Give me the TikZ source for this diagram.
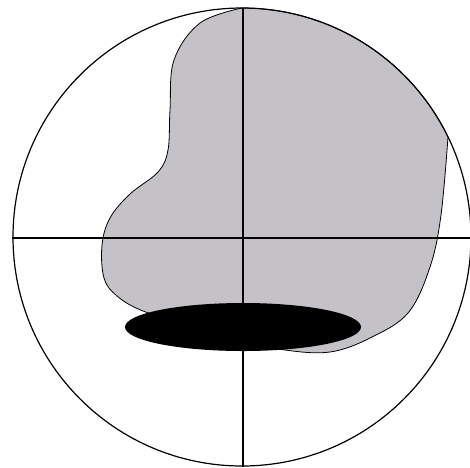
\documentclass[tikz,border=0pt]{standalone}
\definecolor{blobgray}{RGB}{196,194,198}
\tikzset{
  outline/.style={line width=0.8pt},
  axis/.style={line width=1.4pt},
  rim/.style={line width=1.2pt}
}
\begin{document}
\begin{tikzpicture}[x=1pt,y=1pt]
\useasboundingbox (0,0) rectangle (470,-467);
\coordinate (O) at (242,-237);
% grey region
\filldraw[fill=blobgray,draw=black,outline]
  (242,-8) arc[start angle=90,end angle=26,radius=229]
  -- plot[smooth,tension=0.6] coordinates {(448,-137) (441,-215) (430,-267) (408,-313) (370,-338) (330,-352) (285,-350) (240,-340) (190,-325) (143,-311) (117,-296) (104,-278) (102,-245) (110,-218) (130,-194) (158,-172) (168,-150) (170,-110) (174,-60) (200,-23) (242,-8)}
  -- cycle;
% black ellipse
\fill[black] (243,-327) ellipse[x radius=118,y radius=24];
% axes
\draw[axis] (12,-238) -- (470,-238);
\draw[axis] (243,-8) -- (243,-467);
% circle
\draw[rim] (O) circle[radius=229];
\end{tikzpicture}
\end{document}
